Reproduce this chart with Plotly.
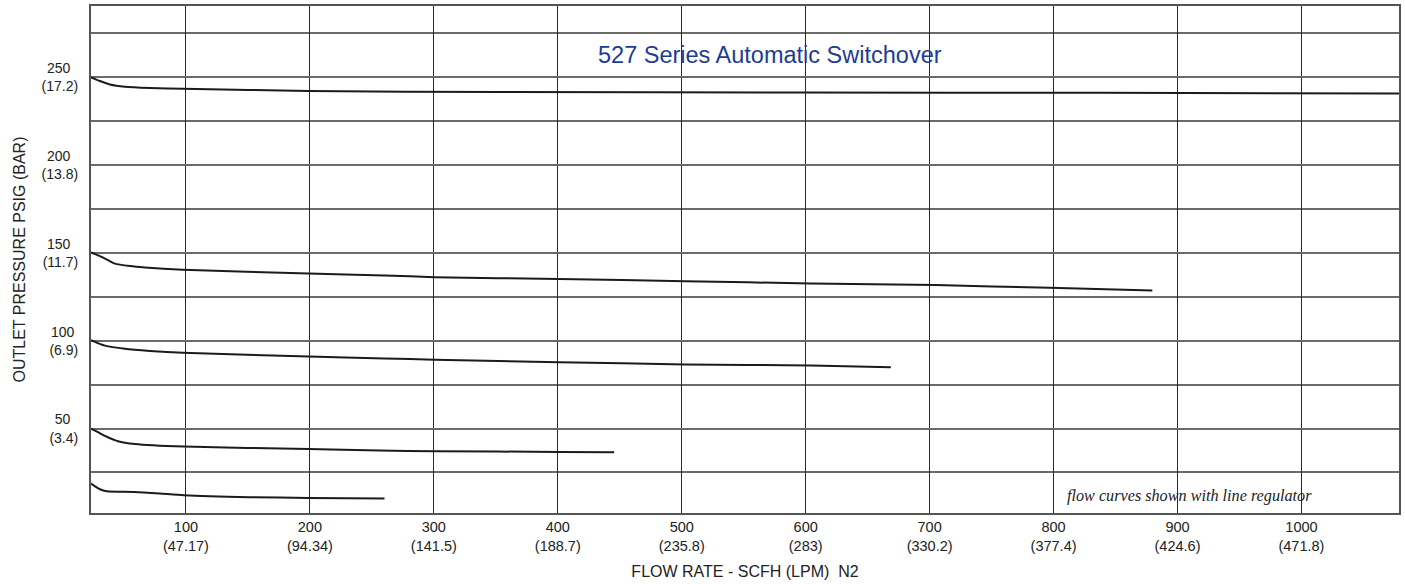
import plotly.graph_objects as go

# ---- data (flow in SCFH, outlet pressure in PSIG) ----
x_250 = [23.4, 30.6, 38.7, 50.8, 70.9, 97.5, 199.0, 352.9, 594.5, 836.2, 1078.7]
y_250 = [250.0, 247.9, 245.9, 244.6, 243.9, 243.5, 242.2, 241.6, 241.3, 241.2, 240.8]

x_150 = [23.4, 30.6, 37.1, 42.7, 54.8, 66.9, 97.5, 199.0, 260.2, 300.5, 401.2, 502.7, 604.2, 704.9, 796.8, 879.7]
y_150 = [150.3, 148.2, 145.9, 143.9, 142.5, 141.7, 140.4, 138.3, 137.2, 136.2, 135.1, 133.9, 132.6, 131.7, 130.1, 128.6]

x_100 = [23.4, 29.0, 34.6, 50.8, 70.9, 97.5, 199.0, 260.2, 300.5, 401.2, 502.7, 604.2, 668.7]
y_100 = [100.3, 98.6, 97.2, 95.4, 94.2, 93.1, 91.0, 89.9, 89.2, 87.8, 86.5, 85.9, 84.9]

x_50 = [23.4, 29.0, 34.6, 45.1, 58.8, 98.3, 199.0, 256.2, 300.5, 401.2, 445.5]
y_50 = [50.0, 47.9, 45.8, 42.8, 41.2, 39.7, 38.4, 37.5, 37.1, 36.7, 36.5]

x_low = [23.4, 26.6, 30.6, 36.0, 58.8, 78.9, 98.3, 151.5, 199.0, 260.2]
y_low = [18.7, 17.1, 15.4, 14.3, 13.9, 13.0, 12.0, 10.9, 10.5, 10.1]

x_tick_vals = [100, 200, 300, 400, 500, 600, 700, 800, 900, 1000]
x_tick_lpm = ["47.17", "94.34", "141.5", "188.7", "235.8", "283", "330.2", "377.4", "424.6", "471.8"]
y_tick_vals = [50, 100, 150, 200, 250]
y_tick_bar = ["3.4", "6.9", "11.7", "13.8", "17.2"]
y_minor_vals = [25, 75, 125, 175, 225, 275]

title_text = "527 Series Automatic Switchover"
note_text = "flow curves shown with line regulator"

# ---- figure ----
fig = go.Figure()
line_style = dict(color="#1b1b1b", width=2, shape="spline", smoothing=0.6)
for xs, ys in [(x_250, y_250), (x_150, y_150), (x_100, y_100), (x_50, y_50), (x_low, y_low)]:
    fig.add_trace(go.Scatter(x=xs, y=ys, mode="lines", line=line_style,
                             showlegend=False, hoverinfo="skip"))

NB = "\u00a0"


def em_width(s):
    w = 0.0
    for ch in s:
        if ch.isdigit():
            w += 0.556
        elif ch in "()":
            w += 0.333
        elif ch == ".":
            w += 0.278
        else:
            w += 0.5
    return w


x_ticktext = [f"{v}<br>({l})" for v, l in zip(x_tick_vals, x_tick_lpm)]
y_ticktext = []
for v, b in zip(y_tick_vals, y_tick_bar):
    top = str(v)
    bot = f"({b})"
    # right-aligned lines: pad the top line so it sits centred over the lower one
    pad = int(round((em_width(bot) - em_width(top)) / 2 / 0.278))
    y_ticktext.append(top + NB * pad + "<br>" + bot)

font_main = "Liberation Sans, Arial, sans-serif"

fig.update_layout(
    width=1405, height=584,
    margin=dict(l=91, r=4, t=6, b=71),
    paper_bgcolor="white", plot_bgcolor="white",
    font=dict(family=font_main, size=14, color="#222222"),
    xaxis=dict(
        range=[23.4, 1078.7],
        tickmode="array", tickvals=x_tick_vals, ticktext=x_ticktext,
        showgrid=True, gridcolor="#2a2a2a", gridwidth=1.2,
        showline=True, linecolor="#555555", linewidth=2, mirror=True,
        zeroline=False, ticks="", ticklabelstandoff=0,
        tickfont=dict(size=14.5, color="#222222"),
        title=dict(text="FLOW RATE - SCFH (LPM)" + NB + " N2",
                   font=dict(size=16, color="#222222"), standoff=13),
    ),
    yaxis=dict(
        range=[1.9, 290.6],
        tickmode="array", tickvals=y_tick_vals, ticktext=y_ticktext,
        showgrid=True, gridcolor="#6a6a6a", gridwidth=1.6,
        minor=dict(tickvals=y_minor_vals, showgrid=True, gridcolor="#6a6a6a", gridwidth=1.6, ticks=""),
        showline=True, linecolor="#555555", linewidth=2, mirror=True,
        zeroline=False, ticks="", ticklabelstandoff=8,
        tickfont=dict(size=14, color="#222222"),
        title=dict(text="OUTLET PRESSURE PSIG (BAR)",
                   font=dict(size=16, color="#222222"), standoff=12),
    ),
    annotations=[
        dict(text=title_text, xref="paper", yref="paper", x=0.519, y=0.903,
             xanchor="center", yanchor="middle", showarrow=False,
             font=dict(family=font_main, size=23.5, color="#1e3c96")),
        dict(text="<i>" + note_text + "</i>", xref="paper", yref="paper", x=0.840, y=0.034,
             xanchor="center", yanchor="middle", showarrow=False,
             font=dict(family="Liberation Serif, Times New Roman, serif", size=16.2, color="#222222")),
    ],
)

fig.write_html("out.html", config={"displayModeBar": False},
               post_script="document.body.style.margin='0';")
